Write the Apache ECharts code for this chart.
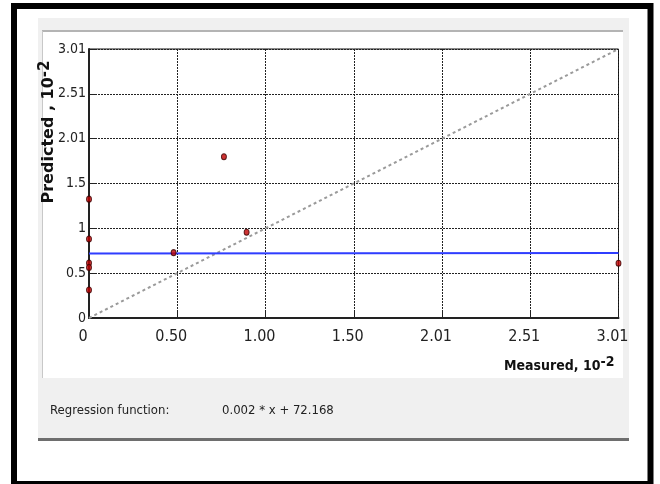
<!DOCTYPE html>
<html>
<head>
<meta charset="utf-8">
<script src="https://cdn.jsdelivr.net/npm/echarts@6/dist/echarts.min.js"></script>
<style>
html,body{margin:0;padding:0;background:#fff;}
#chart{width:660px;height:484px;}
</style>
</head>
<body>
<div id="chart"></div>
<script>
// ---- data ----
var axisMax = 3.01;
var xTickLabels = ['0', '0.50', '1.00', '1.50', '2.01', '2.51', '3.01'];
var yTickLabels = ['0', '0.5', '1', '1.5', '2.01', '2.51', '3.01'];
var measuredPoints = [0.767, 0.896, 0.481, 3.01, 0, 0, 0, 0, 0];
var predictedPoints = [1.804, 0.959, 0.731, 0.612, 0.884, 0.615, 0.565, 0.313, 1.33];
var regressionX = [0, 3.01];
var regressionY = [0.7217, 0.7277];
var identityX = [0, 3.01];
var identityY = [0, 3.01];
var regressionLabel = 'Regression function:';
var regressionFormula = '0.002 * x + 72.168';
var yAxisTitle = 'Predicted , 10{sup|-2}';
var xAxisTitle = 'Measured, 10{sup|-2}';

var interval = axisMax / 6;
function pairs(xs, ys) { return xs.map(function (x, i) { return [x, ys[i]]; }); }
function idx(v) { return Math.round(v / interval); }

var chart = echarts.init(document.getElementById('chart'), null, {renderer: 'canvas'});
var narrow = '"DejaVu Sans Condensed", "Liberation Sans Narrow", "Liberation Sans", sans-serif';
var boldWide = '"DejaVu Sans", sans-serif';

chart.setOption({
  animation: false,
  backgroundColor: '#ffffff',
  graphic: [
    {type: 'rect', z: -10, shape: {x: 14, y: 6, width: 636.5, height: 478}, style: {fill: '#ffffff', stroke: '#000', lineWidth: 6}},
    {type: 'rect', z: -9, shape: {x: 38, y: 18, width: 591, height: 423}, style: {fill: '#f0f0f0'}},
    {type: 'rect', z: -8, shape: {x: 38, y: 438, width: 591, height: 3}, style: {fill: '#6e6e6e'}},
    {type: 'rect', z: -8, shape: {x: 42, y: 31, width: 581, height: 347}, style: {fill: '#ffffff'}},
    {type: 'rect', z: -7, shape: {x: 42, y: 30, width: 581, height: 2}, style: {fill: '#b4b4b4'}},
    {type: 'rect', z: -7, shape: {x: 42, y: 31, width: 1, height: 347}, style: {fill: '#c8c8c8'}},
    {type: 'text', z: 10, left: 50, top: 404, style: {text: regressionLabel, fill: '#222', font: '13px ' + narrow}},
    {type: 'text', z: 10, left: 222, top: 404, style: {text: regressionFormula, fill: '#222', font: '13px ' + narrow}},
    {type: 'text', z: 10, x: 49, y: 132, rotation: Math.PI / 2,
      style: {text: yAxisTitle, align: 'center', verticalAlign: 'middle', fill: '#111',
        fontFamily: boldWide, fontWeight: 'bold', fontSize: 16,
        rich: {sup: {fontFamily: boldWide, fontWeight: 'bold', fontSize: 15, fill: '#111', padding: [0, 0, 8, 0]}}}}
  ],
  grid: {left: 89, top: 49, right: 41.5, bottom: 166, show: true, borderColor: '#111', borderWidth: 1, backgroundColor: 'transparent'},
  xAxis: {
    type: 'value', min: 0, max: axisMax, interval: interval,
    axisLine: {show: true, onZero: false, lineStyle: {color: '#222', width: 2}},
    axisTick: {show: true, inside: true, length: 8, lineStyle: {color: '#222'}},
    splitLine: {show: true, lineStyle: {color: '#222', width: 1, type: [2, 1]}},
    axisLabel: {
      color: '#222', fontFamily: narrow, fontSize: 16, margin: 11,
      padding: [0, 12, 0, 0],
      formatter: function (v) { return xTickLabels[idx(v)]; }
    },
    name: xAxisTitle, nameLocation: 'end', nameGap: 0, nameMoveOverlap: false,
    nameTextStyle: {
      fontFamily: narrow, fontWeight: 'bold', fontSize: 14, color: '#111',
      align: 'right', verticalAlign: 'top', padding: [37, 4, 0, 0],
      rich: {sup: {fontFamily: narrow, fontWeight: 'bold', fontSize: 14, color: '#111', verticalAlign: 'top', padding: [0, 0, 8, 0]}}
    }
  },
  yAxis: {
    type: 'value', min: 0, max: axisMax, interval: interval,
    axisLine: {show: true, onZero: false, lineStyle: {color: '#222', width: 2}},
    axisTick: {show: true, inside: true, length: 6, lineStyle: {color: '#222'}},
    splitLine: {show: true, lineStyle: {color: '#222', width: 1, type: [2, 1]}},
    axisLabel: {
      color: '#222', fontFamily: narrow, fontSize: 14, margin: 3,
      padding: [0, 0, 10, 0],
      formatter: function (v) { return yTickLabels[idx(v)]; }
    }
  },
  series: [
    {type: 'line', data: pairs(identityX, identityY), symbol: 'none', z: 2,
      lineStyle: {color: '#9a9a9a', width: 2, type: [3, 3]}},
    {type: 'line', data: pairs(regressionX, regressionY), symbol: 'none', z: 3,
      lineStyle: {color: '#2f3dff', width: 2}},
    {type: 'scatter', data: pairs(measuredPoints, predictedPoints), clip: true, z: 4,
      symbol: 'circle', symbolSize: [5, 6],
      itemStyle: {color: '#c00000', borderColor: '#3a0000', borderWidth: 1}}
  ]
});
</script>
</body>
</html>
